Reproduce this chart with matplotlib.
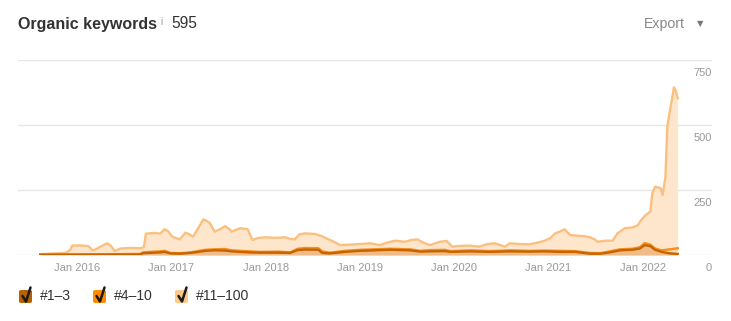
import matplotlib
matplotlib.use("Agg")
import matplotlib.pyplot as plt
from matplotlib.patches import FancyBboxPatch
from matplotlib.lines import Line2D
import matplotlib.transforms as mtransforms

plt.rcParams['font.family'] = ['Liberation Sans', 'DejaVu Sans']

# --- data (decimal years, keyword counts) ---
top_years = [2015.61, 2015.71, 2015.88, 2015.93, 2015.95, 2016.03, 2016.12, 2016.17, 2016.24, 2016.32,
             2016.36, 2016.40, 2016.46, 2016.56, 2016.67, 2016.71, 2016.73, 2016.83, 2016.88, 2016.93,
             2016.97, 2017.01, 2017.09, 2017.15, 2017.20, 2017.23, 2017.28, 2017.34, 2017.38, 2017.41,
             2017.46, 2017.52, 2017.57, 2017.62, 2017.64, 2017.73, 2017.81, 2017.86, 2017.92, 2017.99,
             2018.10, 2018.21, 2018.26, 2018.31, 2018.36, 2018.42, 2018.52, 2018.60, 2018.68, 2018.74,
             2018.79, 2018.90, 2019.00, 2019.11, 2019.21, 2019.29, 2019.37, 2019.48, 2019.55, 2019.61,
             2019.67, 2019.74, 2019.80, 2019.85, 2019.92, 2019.98, 2020.06, 2020.17, 2020.27, 2020.35,
             2020.43, 2020.49, 2020.54, 2020.59, 2020.70, 2020.80, 2020.89, 2020.96, 2021.02, 2021.07,
             2021.12, 2021.17, 2021.23, 2021.31, 2021.39, 2021.44, 2021.49, 2021.52, 2021.60, 2021.68,
             2021.73, 2021.81, 2021.89, 2021.95, 2021.97, 2022.02, 2022.08, 2022.10, 2022.13, 2022.16,
             2022.19, 2022.21, 2022.24, 2022.26, 2022.29, 2022.31, 2022.33, 2022.35, 2022.37]
pos_11_100 = [3, 5, 8, 20, 36, 37, 34, 17, 30, 45,
              35, 15, 25, 27, 26, 30, 82, 85, 82, 99,
              90, 70, 60, 86, 78, 70, 100, 137, 130, 122,
              90, 100, 111, 98, 90, 103, 99, 58, 65, 68,
              66, 68, 62, 60, 80, 83, 81, 72, 58, 48,
              38, 40, 42, 45, 38, 48, 55, 51, 58, 60,
              48, 38, 45, 51, 54, 32, 35, 36, 32, 42,
              45, 38, 32, 45, 42, 41, 48, 55, 65, 83,
              90, 99, 77, 74, 72, 68, 60, 51, 55, 55,
              83, 103, 106, 115, 128, 150, 167, 237, 263, 260,
              256, 231, 300, 494, 560, 600, 645, 632, 603]

low_years = [2015.61, 2016.24, 2016.67, 2016.70, 2016.77, 2016.88, 2016.93, 2016.99, 2017.09, 2017.20,
             2017.25, 2017.36, 2017.46, 2017.57, 2017.64, 2017.73, 2017.83, 2017.94, 2018.15, 2018.26,
             2018.34, 2018.42, 2018.56, 2018.60, 2018.68, 2018.84, 2019.00, 2019.16, 2019.32, 2019.53,
             2019.64, 2019.74, 2019.90, 2019.96, 2020.17, 2020.38, 2020.59, 2020.80, 2020.96, 2021.12,
             2021.28, 2021.44, 2021.55, 2021.65, 2021.76, 2021.89, 2021.97, 2022.02, 2022.08, 2022.13,
             2022.20, 2022.29, 2022.37]
pos_4_10 = [2, 3, 4, 10, 12, 14, 16, 8, 7, 10,
            13, 20, 22, 23, 18, 16, 14, 12, 13, 10,
            24, 27, 26, 14, 9, 16, 20, 22, 24, 22,
            16, 19, 20, 15, 18, 15, 18, 16, 17, 16,
            15, 8, 7, 14, 22, 24, 30, 46, 40, 25,
            18, 22, 26]
pos_1_3 = [1, 1, 2, 7, 8, 10, 12, 6, 5, 8,
           10, 16, 18, 17, 14, 12, 10, 9, 9, 8,
           19, 21, 20, 8, 6, 12, 16, 18, 20, 18,
           13, 14, 15, 12, 14, 12, 14, 13, 14, 12,
           12, 5, 5, 10, 18, 20, 25, 38, 34, 20,
           12, 6, 4]

x_ticks = [2016, 2017, 2018, 2019, 2020, 2021, 2022]
x_labels = ["Jan 2016", "Jan 2017", "Jan 2018", "Jan 2019", "Jan 2020", "Jan 2021", "Jan 2022"]
y_ticks = [0, 250, 500, 750]
legend_labels = ["#1\u20133", "#4\u201310", "#11\u2013100"]
total = "595"

W, H = 731, 321
fig = plt.figure(figsize=(W / 100, H / 100), dpi=100)
ax = fig.add_axes([18 / W, (H - 255) / H, (712 - 18) / W, (255 - 60) / H])

c_light, f_light = "#fbc07f", "#fee6cc"
c_mid = "#f5901e"
c_dark = "#c66400"

ax.fill_between(top_years, pos_11_100, color=f_light, lw=0, zorder=1)
ax.plot(top_years, pos_11_100, color=c_light, lw=1.7, zorder=2)
ax.fill_between(low_years, pos_4_10, color="#f9c48c", alpha=0.5, lw=0, zorder=3)
ax.plot(low_years, pos_4_10, color=c_mid, lw=1.7, zorder=4)
ax.fill_between(low_years, pos_1_3, color="#d9924a", alpha=0.35, lw=0, zorder=5)
ax.plot(low_years, pos_1_3, color=c_dark, lw=1.7, zorder=6)

ax.set_xlim(2016 - 59 / 94.3, 2016 + 635 / 94.3)
ax.set_ylim(0, 750)
for s in ax.spines.values():
    s.set_visible(False)
ax.set_yticks(y_ticks)
ax.yaxis.grid(True, color="#e6e6e6", lw=1)
ax.set_axisbelow(True)
ax.tick_params(axis="y", length=0, labelleft=False)
ax.set_xticks(x_ticks)
ax.set_xticklabels(x_labels, color="#999999", fontsize=8)
ax.tick_params(axis="x", length=0, pad=6)

# y labels sit under their gridline at the right edge
tr = mtransforms.blended_transform_factory(ax.transAxes, ax.transData)
shift = mtransforms.ScaledTranslation(0, -8 / 100, fig.dpi_scale_trans)
for v in y_ticks:
    ax.text(1.0, v, str(v), transform=tr + shift, ha="right", va="top", color="#999999",
            fontsize=8, zorder=10)

# header
fig.text(18 / W, 1 - 24 / H, "Organic keywords", fontsize=11.5, fontweight="bold",
         color="#333333", va="center", ha="left")
fig.text(160 / W, 1 - 22 / H, "i", fontsize=7, color="#999999", va="center", ha="left")
fig.text(171 / W, 1 - 24 / H, total, fontsize=11.2, color="#333333", va="center", ha="left")
fig.text(644 / W, 1 - 24 / H, "Export", fontsize=10.2, color="#888888", va="center", ha="left")
fig.text(700 / W, 1 - 24 / H, "\u25BC", fontsize=6, color="#777777", va="center", ha="center",
         family="DejaVu Sans")

# legend with checkboxes
box_cols = ["#b85f00", "#ff8c00", "#ffc98a"]
box_x = [19, 93, 175]
for bx, col, lab in zip(box_x, box_cols, legend_labels):
    fig.add_artist(FancyBboxPatch((bx / W, 1 - 303 / H), 13 / W, 13 / H,
                                  boxstyle="round,pad=0,rounding_size=0.004",
                                  transform=fig.transFigure, facecolor=col, edgecolor="none"))
    fig.add_artist(Line2D([(bx + 3.5) / W, (bx + 7) / W, (bx + 11.5) / W],
                          [1 - 296 / H, 1 - 301.5 / H, 1 - 287.5 / H],
                          transform=fig.transFigure, color="#1a1a1a", lw=1.8,
                          solid_capstyle="round", solid_joinstyle="round"))
    fig.text((bx + 21) / W, 1 - 295.5 / H, lab, fontsize=10.1, color="#333333", va="center", ha="left")

fig.savefig("out.png", dpi=100)
